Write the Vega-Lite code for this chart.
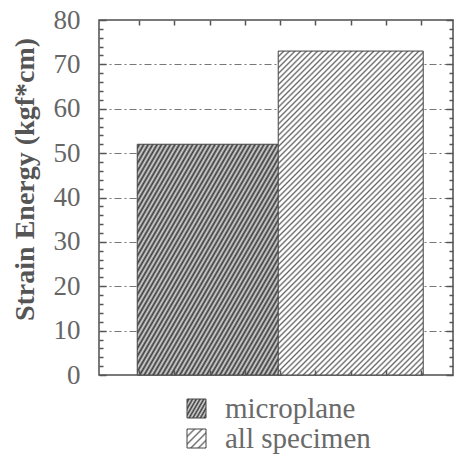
{
  "$schema": "https://vega.github.io/schema/vega-lite/v6.json",
  "width": 354,
  "height": 355,
  "autosize": {"type": "none"},
  "padding": {"left": 99, "top": 20, "right": 1, "bottom": 91},
  "background": "white",
  "config": {
    "font": "Liberation Serif",
    "view": {"stroke": "#4d4d4d", "strokeWidth": 1.5}
  },
  "data": {
    "values": [
      {"specimen": "microplane", "pos": 1, "energy": 52},
      {"specimen": "all specimen", "pos": 2, "energy": 73}
    ]
  },
  "layer": [
    {
      "mark": {"type": "bar", "orient": "vertical", "width": 145, "stroke": "#444", "strokeWidth": 1},
      "encoding": {
        "x": {"field": "pos", "type": "quantitative", "scale": {"domain": [0.25, 2.69], "nice": false, "zero": false},
          "axis": {"orient": "bottom", "values": [0.5, 0.75, 1, 1.25, 1.5, 1.75, 2, 2.25, 2.5], "tickSize": -5, "tickColor": "#555", "tickWidth": 1.5, "labels": false, "title": null, "domain": false, "grid": false, "zindex": 1}},
        "y": {"field": "energy", "type": "quantitative", "scale": {"domain": [0, 80], "nice": false},
          "axis": {"orient": "left", "values": [0, 10, 20, 30, 40, 50, 60, 70, 80], "tickSize": -7, "tickColor": "#555", "tickWidth": 1.5,
            "labelFont": "Liberation Serif", "labelFontSize": 27, "labelColor": "#666", "labelPadding": 26,
            "title": "Strain Energy (kgf*cm)", "titleFont": "Liberation Serif", "titleFontSize": 28, "titleFontWeight": "bold", "titleColor": "#555",
            "titleX": -66, "titleY": 159, "titleBaseline": "alphabetic", "titleAngle": 270, "titleAlign": "center",
            "domain": false, "grid": true, "gridColor": "#777", "gridDash": [7, 3, 2, 3], "gridWidth": 1,
            "gridOpacity": {"condition": {"test": "datum.value > 0 && datum.value < 80", "value": 1}, "value": 0}}},
        "fill": {
          "field": "specimen", "type": "nominal",
          "scale": {"domain": ["microplane", "all specimen"], "range": [
            {"expr": "{gradient:'linear',x1:0,y1:0,x2:1.183,y2:0.683,stops:[{offset:0,color:'#d8d8d8'},{offset:0.0625,color:'#3a3a3a'},{offset:0.125,color:'#d8d8d8'},{offset:0.1875,color:'#3a3a3a'},{offset:0.25,color:'#d8d8d8'},{offset:0.3125,color:'#3a3a3a'},{offset:0.375,color:'#d8d8d8'},{offset:0.4375,color:'#3a3a3a'},{offset:0.5,color:'#d8d8d8'},{offset:0.5625,color:'#3a3a3a'},{offset:0.625,color:'#d8d8d8'},{offset:0.6875,color:'#3a3a3a'},{offset:0.75,color:'#d8d8d8'},{offset:0.8125,color:'#3a3a3a'},{offset:0.875,color:'#d8d8d8'},{offset:0.9375,color:'#3a3a3a'},{offset:1,color:'#d8d8d8'}]}"},
            {"expr": "{gradient:'linear',x1:0,y1:0,x2:1,y2:1,stops:[{offset:0,color:'#666'},{offset:0.05,color:'#fff'},{offset:0.1,color:'#fff'},{offset:0.15,color:'#fff'},{offset:0.2,color:'#666'},{offset:0.25,color:'#fff'},{offset:0.3,color:'#fff'},{offset:0.35,color:'#fff'},{offset:0.4,color:'#666'},{offset:0.45,color:'#fff'},{offset:0.5,color:'#fff'},{offset:0.55,color:'#fff'},{offset:0.6,color:'#666'},{offset:0.65,color:'#fff'},{offset:0.7,color:'#fff'},{offset:0.75,color:'#fff'},{offset:0.8,color:'#666'},{offset:0.85,color:'#fff'},{offset:0.9,color:'#fff'},{offset:0.95,color:'#fff'},{offset:1,color:'#666'}]}"}
          ]},
          "condition": [
            {"test": "datum.specimen === 'microplane'", "value": {"gradient": "linear", "x1": 0, "y1": 0, "x2": 1.0405, "y2": 0.956, "stops": [
              {"offset": 0, "color": "#d8d8d8"}, {"offset": 0.008, "color": "#3a3a3a"}, {"offset": 0.016, "color": "#d8d8d8"}, {"offset": 0.024, "color": "#3a3a3a"}, {"offset": 0.032, "color": "#d8d8d8"}, {"offset": 0.04, "color": "#3a3a3a"}, {"offset": 0.048, "color": "#d8d8d8"}, {"offset": 0.056, "color": "#3a3a3a"}, {"offset": 0.064, "color": "#d8d8d8"}, {"offset": 0.072, "color": "#3a3a3a"},
              {"offset": 0.08, "color": "#d8d8d8"}, {"offset": 0.088, "color": "#3a3a3a"}, {"offset": 0.096, "color": "#d8d8d8"}, {"offset": 0.104, "color": "#3a3a3a"}, {"offset": 0.112, "color": "#d8d8d8"}, {"offset": 0.12, "color": "#3a3a3a"}, {"offset": 0.128, "color": "#d8d8d8"}, {"offset": 0.136, "color": "#3a3a3a"}, {"offset": 0.144, "color": "#d8d8d8"}, {"offset": 0.152, "color": "#3a3a3a"},
              {"offset": 0.16, "color": "#d8d8d8"}, {"offset": 0.168, "color": "#3a3a3a"}, {"offset": 0.176, "color": "#d8d8d8"}, {"offset": 0.184, "color": "#3a3a3a"}, {"offset": 0.192, "color": "#d8d8d8"}, {"offset": 0.2, "color": "#3a3a3a"}, {"offset": 0.208, "color": "#d8d8d8"}, {"offset": 0.216, "color": "#3a3a3a"}, {"offset": 0.224, "color": "#d8d8d8"}, {"offset": 0.232, "color": "#3a3a3a"},
              {"offset": 0.24, "color": "#d8d8d8"}, {"offset": 0.248, "color": "#3a3a3a"}, {"offset": 0.256, "color": "#d8d8d8"}, {"offset": 0.264, "color": "#3a3a3a"}, {"offset": 0.272, "color": "#d8d8d8"}, {"offset": 0.28, "color": "#3a3a3a"}, {"offset": 0.288, "color": "#d8d8d8"}, {"offset": 0.296, "color": "#3a3a3a"}, {"offset": 0.304, "color": "#d8d8d8"}, {"offset": 0.312, "color": "#3a3a3a"},
              {"offset": 0.32, "color": "#d8d8d8"}, {"offset": 0.328, "color": "#3a3a3a"}, {"offset": 0.336, "color": "#d8d8d8"}, {"offset": 0.344, "color": "#3a3a3a"}, {"offset": 0.352, "color": "#d8d8d8"}, {"offset": 0.36, "color": "#3a3a3a"}, {"offset": 0.368, "color": "#d8d8d8"}, {"offset": 0.376, "color": "#3a3a3a"}, {"offset": 0.384, "color": "#d8d8d8"}, {"offset": 0.392, "color": "#3a3a3a"},
              {"offset": 0.4, "color": "#d8d8d8"}, {"offset": 0.408, "color": "#3a3a3a"}, {"offset": 0.416, "color": "#d8d8d8"}, {"offset": 0.424, "color": "#3a3a3a"}, {"offset": 0.432, "color": "#d8d8d8"}, {"offset": 0.44, "color": "#3a3a3a"}, {"offset": 0.448, "color": "#d8d8d8"}, {"offset": 0.456, "color": "#3a3a3a"}, {"offset": 0.464, "color": "#d8d8d8"}, {"offset": 0.472, "color": "#3a3a3a"},
              {"offset": 0.48, "color": "#d8d8d8"}, {"offset": 0.488, "color": "#3a3a3a"}, {"offset": 0.496, "color": "#d8d8d8"}, {"offset": 0.504, "color": "#3a3a3a"}, {"offset": 0.512, "color": "#d8d8d8"}, {"offset": 0.52, "color": "#3a3a3a"}, {"offset": 0.528, "color": "#d8d8d8"}, {"offset": 0.536, "color": "#3a3a3a"}, {"offset": 0.544, "color": "#d8d8d8"}, {"offset": 0.552, "color": "#3a3a3a"},
              {"offset": 0.56, "color": "#d8d8d8"}, {"offset": 0.568, "color": "#3a3a3a"}, {"offset": 0.576, "color": "#d8d8d8"}, {"offset": 0.584, "color": "#3a3a3a"}, {"offset": 0.592, "color": "#d8d8d8"}, {"offset": 0.6, "color": "#3a3a3a"}, {"offset": 0.608, "color": "#d8d8d8"}, {"offset": 0.616, "color": "#3a3a3a"}, {"offset": 0.624, "color": "#d8d8d8"}, {"offset": 0.632, "color": "#3a3a3a"},
              {"offset": 0.64, "color": "#d8d8d8"}, {"offset": 0.648, "color": "#3a3a3a"}, {"offset": 0.656, "color": "#d8d8d8"}, {"offset": 0.664, "color": "#3a3a3a"}, {"offset": 0.672, "color": "#d8d8d8"}, {"offset": 0.68, "color": "#3a3a3a"}, {"offset": 0.688, "color": "#d8d8d8"}, {"offset": 0.696, "color": "#3a3a3a"}, {"offset": 0.704, "color": "#d8d8d8"}, {"offset": 0.712, "color": "#3a3a3a"},
              {"offset": 0.72, "color": "#d8d8d8"}, {"offset": 0.728, "color": "#3a3a3a"}, {"offset": 0.736, "color": "#d8d8d8"}, {"offset": 0.744, "color": "#3a3a3a"}, {"offset": 0.752, "color": "#d8d8d8"}, {"offset": 0.76, "color": "#3a3a3a"}, {"offset": 0.768, "color": "#d8d8d8"}, {"offset": 0.776, "color": "#3a3a3a"}, {"offset": 0.784, "color": "#d8d8d8"}, {"offset": 0.792, "color": "#3a3a3a"},
              {"offset": 0.8, "color": "#d8d8d8"}, {"offset": 0.808, "color": "#3a3a3a"}, {"offset": 0.816, "color": "#d8d8d8"}, {"offset": 0.824, "color": "#3a3a3a"}, {"offset": 0.832, "color": "#d8d8d8"}, {"offset": 0.84, "color": "#3a3a3a"}, {"offset": 0.848, "color": "#d8d8d8"}, {"offset": 0.856, "color": "#3a3a3a"}, {"offset": 0.864, "color": "#d8d8d8"}, {"offset": 0.872, "color": "#3a3a3a"},
              {"offset": 0.88, "color": "#d8d8d8"}, {"offset": 0.888, "color": "#3a3a3a"}, {"offset": 0.896, "color": "#d8d8d8"}, {"offset": 0.904, "color": "#3a3a3a"}, {"offset": 0.912, "color": "#d8d8d8"}, {"offset": 0.92, "color": "#3a3a3a"}, {"offset": 0.928, "color": "#d8d8d8"}, {"offset": 0.936, "color": "#3a3a3a"}, {"offset": 0.944, "color": "#d8d8d8"}, {"offset": 0.952, "color": "#3a3a3a"},
              {"offset": 0.96, "color": "#d8d8d8"}, {"offset": 0.968, "color": "#3a3a3a"}, {"offset": 0.976, "color": "#d8d8d8"}, {"offset": 0.984, "color": "#3a3a3a"}, {"offset": 0.992, "color": "#d8d8d8"}, {"offset": 1, "color": "#3a3a3a"}
            ]}},
            {"test": "datum.specimen === 'all specimen'", "value": {"gradient": "linear", "x1": 0, "y1": 0, "x2": 0.5398, "y2": 1.206, "stops": [
              {"offset": 0, "color": "#666"}, {"offset": 0.004, "color": "#fff"}, {"offset": 0.008, "color": "#fff"},
              {"offset": 0.012, "color": "#666"}, {"offset": 0.016, "color": "#fff"}, {"offset": 0.02, "color": "#fff"},
              {"offset": 0.024, "color": "#666"}, {"offset": 0.028, "color": "#fff"}, {"offset": 0.032, "color": "#fff"},
              {"offset": 0.036, "color": "#666"}, {"offset": 0.04, "color": "#fff"}, {"offset": 0.044, "color": "#fff"},
              {"offset": 0.048, "color": "#666"}, {"offset": 0.052, "color": "#fff"}, {"offset": 0.056, "color": "#fff"},
              {"offset": 0.06, "color": "#666"}, {"offset": 0.064, "color": "#fff"}, {"offset": 0.068, "color": "#fff"},
              {"offset": 0.072, "color": "#666"}, {"offset": 0.076, "color": "#fff"}, {"offset": 0.08, "color": "#fff"},
              {"offset": 0.084, "color": "#666"}, {"offset": 0.088, "color": "#fff"}, {"offset": 0.092, "color": "#fff"},
              {"offset": 0.096, "color": "#666"}, {"offset": 0.1, "color": "#fff"}, {"offset": 0.104, "color": "#fff"},
              {"offset": 0.108, "color": "#666"}, {"offset": 0.112, "color": "#fff"}, {"offset": 0.116, "color": "#fff"},
              {"offset": 0.12, "color": "#666"}, {"offset": 0.124, "color": "#fff"}, {"offset": 0.128, "color": "#fff"},
              {"offset": 0.132, "color": "#666"}, {"offset": 0.136, "color": "#fff"}, {"offset": 0.14, "color": "#fff"},
              {"offset": 0.144, "color": "#666"}, {"offset": 0.148, "color": "#fff"}, {"offset": 0.152, "color": "#fff"},
              {"offset": 0.156, "color": "#666"}, {"offset": 0.16, "color": "#fff"}, {"offset": 0.164, "color": "#fff"},
              {"offset": 0.168, "color": "#666"}, {"offset": 0.172, "color": "#fff"}, {"offset": 0.176, "color": "#fff"},
              {"offset": 0.18, "color": "#666"}, {"offset": 0.184, "color": "#fff"}, {"offset": 0.188, "color": "#fff"},
              {"offset": 0.192, "color": "#666"}, {"offset": 0.196, "color": "#fff"}, {"offset": 0.2, "color": "#fff"},
              {"offset": 0.204, "color": "#666"}, {"offset": 0.208, "color": "#fff"}, {"offset": 0.212, "color": "#fff"},
              {"offset": 0.216, "color": "#666"}, {"offset": 0.22, "color": "#fff"}, {"offset": 0.224, "color": "#fff"},
              {"offset": 0.228, "color": "#666"}, {"offset": 0.232, "color": "#fff"}, {"offset": 0.236, "color": "#fff"},
              {"offset": 0.24, "color": "#666"}, {"offset": 0.244, "color": "#fff"}, {"offset": 0.248, "color": "#fff"},
              {"offset": 0.252, "color": "#666"}, {"offset": 0.256, "color": "#fff"}, {"offset": 0.26, "color": "#fff"},
              {"offset": 0.264, "color": "#666"}, {"offset": 0.268, "color": "#fff"}, {"offset": 0.272, "color": "#fff"},
              {"offset": 0.276, "color": "#666"}, {"offset": 0.28, "color": "#fff"}, {"offset": 0.284, "color": "#fff"},
              {"offset": 0.288, "color": "#666"}, {"offset": 0.292, "color": "#fff"}, {"offset": 0.296, "color": "#fff"},
              {"offset": 0.3, "color": "#666"}, {"offset": 0.304, "color": "#fff"}, {"offset": 0.308, "color": "#fff"},
              {"offset": 0.312, "color": "#666"}, {"offset": 0.316, "color": "#fff"}, {"offset": 0.32, "color": "#fff"},
              {"offset": 0.324, "color": "#666"}, {"offset": 0.328, "color": "#fff"}, {"offset": 0.332, "color": "#fff"},
              {"offset": 0.336, "color": "#666"}, {"offset": 0.34, "color": "#fff"}, {"offset": 0.344, "color": "#fff"},
              {"offset": 0.348, "color": "#666"}, {"offset": 0.352, "color": "#fff"}, {"offset": 0.356, "color": "#fff"},
              {"offset": 0.36, "color": "#666"}, {"offset": 0.364, "color": "#fff"}, {"offset": 0.368, "color": "#fff"},
              {"offset": 0.372, "color": "#666"}, {"offset": 0.376, "color": "#fff"}, {"offset": 0.38, "color": "#fff"},
              {"offset": 0.384, "color": "#666"}, {"offset": 0.388, "color": "#fff"}, {"offset": 0.392, "color": "#fff"},
              {"offset": 0.396, "color": "#666"}, {"offset": 0.4, "color": "#fff"}, {"offset": 0.404, "color": "#fff"},
              {"offset": 0.408, "color": "#666"}, {"offset": 0.412, "color": "#fff"}, {"offset": 0.416, "color": "#fff"},
              {"offset": 0.42, "color": "#666"}, {"offset": 0.424, "color": "#fff"}, {"offset": 0.428, "color": "#fff"},
              {"offset": 0.432, "color": "#666"}, {"offset": 0.436, "color": "#fff"}, {"offset": 0.44, "color": "#fff"},
              {"offset": 0.444, "color": "#666"}, {"offset": 0.448, "color": "#fff"}, {"offset": 0.452, "color": "#fff"},
              {"offset": 0.456, "color": "#666"}, {"offset": 0.46, "color": "#fff"}, {"offset": 0.464, "color": "#fff"},
              {"offset": 0.468, "color": "#666"}, {"offset": 0.472, "color": "#fff"}, {"offset": 0.476, "color": "#fff"},
              {"offset": 0.48, "color": "#666"}, {"offset": 0.484, "color": "#fff"}, {"offset": 0.488, "color": "#fff"},
              {"offset": 0.492, "color": "#666"}, {"offset": 0.496, "color": "#fff"}, {"offset": 0.5, "color": "#fff"},
              {"offset": 0.504, "color": "#666"}, {"offset": 0.508, "color": "#fff"}, {"offset": 0.512, "color": "#fff"},
              {"offset": 0.516, "color": "#666"}, {"offset": 0.52, "color": "#fff"}, {"offset": 0.524, "color": "#fff"},
              {"offset": 0.528, "color": "#666"}, {"offset": 0.532, "color": "#fff"}, {"offset": 0.536, "color": "#fff"},
              {"offset": 0.54, "color": "#666"}, {"offset": 0.544, "color": "#fff"}, {"offset": 0.548, "color": "#fff"},
              {"offset": 0.552, "color": "#666"}, {"offset": 0.556, "color": "#fff"}, {"offset": 0.56, "color": "#fff"},
              {"offset": 0.564, "color": "#666"}, {"offset": 0.568, "color": "#fff"}, {"offset": 0.572, "color": "#fff"},
              {"offset": 0.576, "color": "#666"}, {"offset": 0.58, "color": "#fff"}, {"offset": 0.584, "color": "#fff"},
              {"offset": 0.588, "color": "#666"}, {"offset": 0.592, "color": "#fff"}, {"offset": 0.596, "color": "#fff"},
              {"offset": 0.6, "color": "#666"}, {"offset": 0.604, "color": "#fff"}, {"offset": 0.608, "color": "#fff"},
              {"offset": 0.612, "color": "#666"}, {"offset": 0.616, "color": "#fff"}, {"offset": 0.62, "color": "#fff"},
              {"offset": 0.624, "color": "#666"}, {"offset": 0.628, "color": "#fff"}, {"offset": 0.632, "color": "#fff"},
              {"offset": 0.636, "color": "#666"}, {"offset": 0.64, "color": "#fff"}, {"offset": 0.644, "color": "#fff"},
              {"offset": 0.648, "color": "#666"}, {"offset": 0.652, "color": "#fff"}, {"offset": 0.656, "color": "#fff"},
              {"offset": 0.66, "color": "#666"}, {"offset": 0.664, "color": "#fff"}, {"offset": 0.668, "color": "#fff"},
              {"offset": 0.672, "color": "#666"}, {"offset": 0.676, "color": "#fff"}, {"offset": 0.68, "color": "#fff"},
              {"offset": 0.684, "color": "#666"}, {"offset": 0.688, "color": "#fff"}, {"offset": 0.692, "color": "#fff"},
              {"offset": 0.696, "color": "#666"}, {"offset": 0.7, "color": "#fff"}, {"offset": 0.704, "color": "#fff"},
              {"offset": 0.708, "color": "#666"}, {"offset": 0.712, "color": "#fff"}, {"offset": 0.716, "color": "#fff"},
              {"offset": 0.72, "color": "#666"}, {"offset": 0.724, "color": "#fff"}, {"offset": 0.728, "color": "#fff"},
              {"offset": 0.732, "color": "#666"}, {"offset": 0.736, "color": "#fff"}, {"offset": 0.74, "color": "#fff"},
              {"offset": 0.744, "color": "#666"}, {"offset": 0.748, "color": "#fff"}, {"offset": 0.752, "color": "#fff"},
              {"offset": 0.756, "color": "#666"}, {"offset": 0.76, "color": "#fff"}, {"offset": 0.764, "color": "#fff"},
              {"offset": 0.768, "color": "#666"}, {"offset": 0.772, "color": "#fff"}, {"offset": 0.776, "color": "#fff"},
              {"offset": 0.78, "color": "#666"}, {"offset": 0.784, "color": "#fff"}, {"offset": 0.788, "color": "#fff"},
              {"offset": 0.792, "color": "#666"}, {"offset": 0.796, "color": "#fff"}, {"offset": 0.8, "color": "#fff"},
              {"offset": 0.804, "color": "#666"}, {"offset": 0.808, "color": "#fff"}, {"offset": 0.812, "color": "#fff"},
              {"offset": 0.816, "color": "#666"}, {"offset": 0.82, "color": "#fff"}, {"offset": 0.824, "color": "#fff"},
              {"offset": 0.828, "color": "#666"}, {"offset": 0.832, "color": "#fff"}, {"offset": 0.836, "color": "#fff"},
              {"offset": 0.84, "color": "#666"}, {"offset": 0.844, "color": "#fff"}, {"offset": 0.848, "color": "#fff"},
              {"offset": 0.852, "color": "#666"}, {"offset": 0.856, "color": "#fff"}, {"offset": 0.86, "color": "#fff"},
              {"offset": 0.864, "color": "#666"}, {"offset": 0.868, "color": "#fff"}, {"offset": 0.872, "color": "#fff"},
              {"offset": 0.876, "color": "#666"}, {"offset": 0.88, "color": "#fff"}, {"offset": 0.884, "color": "#fff"},
              {"offset": 0.888, "color": "#666"}, {"offset": 0.892, "color": "#fff"}, {"offset": 0.896, "color": "#fff"},
              {"offset": 0.9, "color": "#666"}, {"offset": 0.904, "color": "#fff"}, {"offset": 0.908, "color": "#fff"},
              {"offset": 0.912, "color": "#666"}, {"offset": 0.916, "color": "#fff"}, {"offset": 0.92, "color": "#fff"},
              {"offset": 0.924, "color": "#666"}, {"offset": 0.928, "color": "#fff"}, {"offset": 0.932, "color": "#fff"},
              {"offset": 0.936, "color": "#666"}, {"offset": 0.94, "color": "#fff"}, {"offset": 0.944, "color": "#fff"},
              {"offset": 0.948, "color": "#666"}, {"offset": 0.952, "color": "#fff"}, {"offset": 0.956, "color": "#fff"},
              {"offset": 0.96, "color": "#666"}, {"offset": 0.964, "color": "#fff"}, {"offset": 0.968, "color": "#fff"},
              {"offset": 0.972, "color": "#666"}, {"offset": 0.976, "color": "#fff"}, {"offset": 0.98, "color": "#fff"},
              {"offset": 0.984, "color": "#666"}, {"offset": 0.988, "color": "#fff"}, {"offset": 0.992, "color": "#fff"},
              {"offset": 0.996, "color": "#666"}, {"offset": 1, "color": "#fff"}
            ]}}
          ],
          "legend": {
            "orient": "none", "legendX": 83, "legendY": 374, "title": null, "direction": "vertical", "padding": 0,
            "symbolType": "square", "symbolSize": 361, "symbolStrokeColor": "#444", "symbolStrokeWidth": 1,
            "labelFont": "Liberation Serif", "labelFontSize": 29, "labelColor": "#6a6a6a", "labelOffset": 14, "rowPadding": 0,
            "encode": {"symbols": {"update": {
              "stroke": {"value": "#444"},
              "strokeWidth": {"value": 1},
              "opacity": {"value": 1}
            }}}
          }
        }
      }
    },
    {
      "mark": {"type": "point", "opacity": 0},
      "encoding": {
        "x": {"field": "pos", "type": "quantitative", "scale": {"domain": [0.25, 2.69], "nice": false, "zero": false},
          "axis": {"orient": "top", "values": [0.5, 0.75, 1, 1.25, 1.5, 1.75, 2, 2.25, 2.5], "tickSize": -5, "tickColor": "#555", "tickWidth": 1.5, "labels": false, "title": null, "domain": false, "grid": false, "zindex": 1}},
        "y": {"field": "energy", "type": "quantitative", "scale": {"domain": [0, 80], "nice": false},
          "axis": {"orient": "left", "values": [2, 4, 6, 8, 12, 14, 16, 18, 22, 24, 26, 28, 32, 34, 36, 38, 42, 44, 46, 48, 52, 54, 56, 58, 62, 64, 66, 68, 72, 74, 76, 78], "tickSize": -4, "tickColor": "#555", "tickWidth": 1.5, "labels": false, "title": null, "domain": false, "grid": false}}
      }
    },
    {
      "mark": {"type": "point", "opacity": 0},
      "encoding": {
        "x": {"field": "pos", "type": "quantitative", "scale": {"domain": [0.25, 2.69], "nice": false, "zero": false}, "axis": null},
        "y": {"field": "energy", "type": "quantitative", "scale": {"domain": [0, 80], "nice": false},
          "axis": {"orient": "right", "values": [0, 10, 20, 30, 40, 50, 60, 70, 80], "tickSize": -7, "tickColor": "#555", "tickWidth": 1.5, "labels": false, "title": null, "domain": false, "grid": false}}
      }
    },
    {
      "mark": {"type": "point", "opacity": 0},
      "encoding": {
        "x": {"field": "pos", "type": "quantitative", "scale": {"domain": [0.25, 2.69], "nice": false, "zero": false}, "axis": null},
        "y": {"field": "energy", "type": "quantitative", "scale": {"domain": [0, 80], "nice": false},
          "axis": {"orient": "right", "values": [2, 4, 6, 8, 12, 14, 16, 18, 22, 24, 26, 28, 32, 34, 36, 38, 42, 44, 46, 48, 52, 54, 56, 58, 62, 64, 66, 68, 72, 74, 76, 78], "tickSize": -4, "tickColor": "#555", "tickWidth": 1.5, "labels": false, "title": null, "domain": false, "grid": false}}
      }
    }
  ],
  "resolve": {"axis": {"x": "independent", "y": "independent"}}
}
